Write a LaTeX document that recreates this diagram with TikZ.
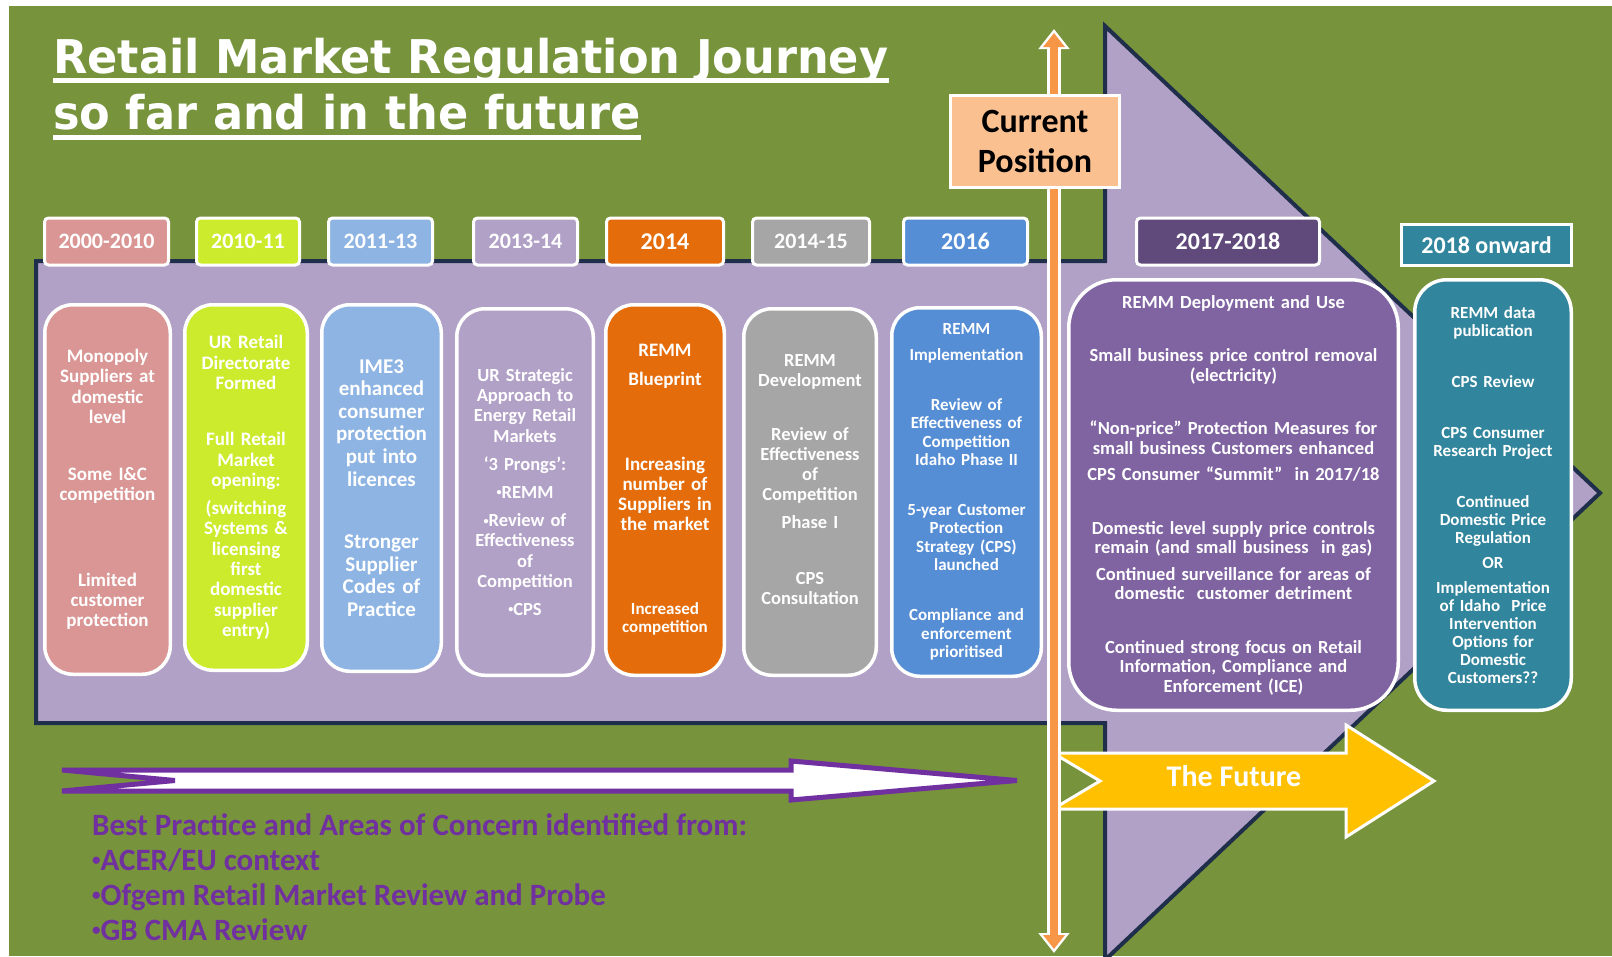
\documentclass[tikz,border=0pt]{standalone}
\usepackage{fontspec}
\usepackage{graphicx}
\setmainfont{Carlito}
\newfontfamily\titlefont[FakeStretch=0.96]{DejaVu Sans}
\usetikzlibrary{arrows.meta,positioning}

\definecolor{grass}{HTML}{77933C}
\definecolor{lilac}{HTML}{B2A1C7}
\definecolor{arrowedge}{HTML}{1F2E4A}
\definecolor{pinkbox}{HTML}{D99694}
\definecolor{limebox}{HTML}{CCEB2C}
\definecolor{skybox}{HTML}{8EB4E3}
\definecolor{orangebox}{HTML}{E46C0A}
\definecolor{greybox}{HTML}{A6A6A6}
\definecolor{bluebox}{HTML}{558ED5}
\definecolor{plumbox}{HTML}{8064A2}
\definecolor{plumdark}{HTML}{604A7B}
\definecolor{tealbox}{HTML}{31859C}
\definecolor{peach}{HTML}{FAC090}
\definecolor{amber}{HTML}{FFC000}
\definecolor{flame}{HTML}{F79646}
\definecolor{violettext}{HTML}{7030A0}

% small list bullet
\newcommand\pip{\raisebox{0.14em}{\scalebox{0.55}{•}}}

\tikzset{
  journey/.style={draw=arrowedge, line width=4pt, fill=lilac, line join=miter},
  lessons/.style={draw=violettext, line width=5pt, fill=white, line join=miter},
  ahead/.style={draw=white, line width=3pt, fill=amber, line join=miter},
  period/.style={draw=white, line width=3pt, rounded corners=4pt, text=white,
    inner sep=0pt, minimum height=47pt,
    font=\bfseries\fontsize{22}{24}\selectfont},
  bigperiod/.style={period, font=\bfseries\fontsize{24}{26}\selectfont},
  stage/.style={draw=white, line width=3.5pt, rounded corners=28pt,
    text=white, align=center, inner xsep=2pt, inner ysep=0pt},
  heading/.style={text=white, inner sep=0pt, anchor=base west,
    font=\titlefont\bfseries\fontsize{46.5}{50}\selectfont},
  concern/.style={text=violettext, inner sep=0pt, anchor=base west,
    font=\bfseries\fontsize{31}{35}\selectfont},
}

\begin{document}
\begin{tikzpicture}[x=1pt, y=-1pt]

  \useasboundingbox (0,0) rectangle (1612,956);
  \fill[white] (0,0) rectangle (1612,956);
  \fill[grass] (9,6) rectangle (1612,956);

  % the big journey arrow
  \draw[journey] (36,261) -- (1105,261) -- (1105,26) -- (1600,493)
    -- (1105,960) -- (1105,723) -- (36,723) -- cycle;

  % lessons arrow and the future arrow
  \draw[lessons] (62,770) -- (791,770) -- (791,761) -- (1017,780.5)
    -- (791,800) -- (791,791) -- (62,791) -- (175,780.5) -- cycle;
  \draw[ahead] (1053,753) -- (1346,753) -- (1346,725) -- (1434,781)
    -- (1346,837) -- (1346,809) -- (1053,809) -- (1100,781) -- cycle;
  \node[text=white, font=\bfseries\fontsize{30}{32}\selectfont] (future) at (1234,776) {The Future};

  % where we are now
  \coordinate (now top) at (1054,29);
  \coordinate (now bottom) at (1054,953);
  \draw[line width=14pt, white, {Triangle[length=20pt,width=30pt]}-{Triangle[length=20pt,width=30pt]}]
    (now top) -- (now bottom);
  \draw[line width=8pt, flame, shorten <=4pt, shorten >=4pt,
    {Triangle[length=14pt,width=21pt]}-{Triangle[length=14pt,width=21pt]}] (now top) -- (now bottom);
  \node[draw=white, line width=2.5pt, fill=peach, minimum width=169pt, minimum height=92pt,
    align=center, font=\bfseries\fontsize{34}{40}\selectfont] (now) at (1035,141.5) {Current\\Position};

  % periods
  \node[period, fill=pinkbox, minimum width=124pt] (p0010) at (106.5,241.5) {2000-2010};
  \node[period, fill=limebox, minimum width=103pt] (p1011) at (248,241.5) {2010-11};
  \node[period, fill=skybox, minimum width=104pt] (p1113) at (380.5,241.5) {2011-13};
  \node[period, fill=lilac, minimum width=104pt] (p1314) at (525.5,241.5) {2013-14};
  \node[bigperiod, fill=orangebox, minimum width=117pt] (p14) at (665,241.5) {2014};
  \node[period, fill=greybox, minimum width=117pt] (p1415) at (811,241.5) {2014-15};
  \node[bigperiod, fill=bluebox, minimum width=124pt] (p16) at (965.5,241.5) {2016};
  \node[bigperiod, fill=plumdark, minimum width=183pt] (p1718) at (1228,241.5) {2017-2018};
  \node[bigperiod, fill=tealbox, rounded corners=0pt, minimum width=170pt,
    minimum height=41pt] (p18) at (1486.5,245) {2018 onward};

  % what happened in each period
  \node[stage, fill=pinkbox, text width=121.5pt, minimum height=369.5pt,
    font=\bfseries\fontsize{19}{20.3}\selectfont] (s0010) at (107.5,489.5)
    {Monopoly\\Suppliers at\\domestic\\level\\[37pt]Some I\&C\\competition\\[65pt]Limited\\customer\\protection};
  \node[stage, fill=limebox, text width=118.5pt, minimum height=365.5pt,
    font=\bfseries\fontsize{19}{20.3}\selectfont] (s1011) at (246,487.5)
    {UR Retail\\Directorate\\Formed\\[36pt]Full Retail\\Market\\opening:\\[8pt](switching\\Systems \&\\licensing\\first\\domestic\\supplier\\entry)};
  \node[stage, fill=skybox, text width=115.5pt, minimum height=366.5pt,
    font=\bfseries\fontsize{21}{22.6}\selectfont] (s1113) at (381.5,488)
    {IME3\\enhanced\\consumer\\protection\\put into\\licences\\[40pt]Stronger\\Supplier\\Codes of\\Practice};
  \node[stage, fill=lilac, text width=132.5pt, minimum height=366.5pt,
    font=\bfseries\fontsize{18.5}{20.2}\selectfont] (s1314) at (525,492)
    {UR Strategic\\Approach to\\Energy Retail\\Markets\\[8pt]‘3 Prongs’:\\[8pt]\pip REMM\\[8pt]\pip Review of\\Effectiveness\\of\\Competition\\[8pt]\pip CPS};
  \node[stage, fill=orangebox, text width=114.5pt, minimum height=370.5pt,
    font=\bfseries\fontsize{19}{20}\selectfont] (s14) at (665,490)
    {REMM\\[9pt]Blueprint\\[65pt]Increasing\\number of\\Suppliers in\\the market\\[64pt]{\fontsize{17}{20}\selectfont Increased}\\[-2pt]{\fontsize{17}{20}\selectfont competition}};
  \node[stage, fill=greybox, text width=128.5pt, minimum height=366.5pt,
    font=\bfseries\fontsize{18.5}{20}\selectfont] (s1415) at (810,492)
    {REMM\\Development\\[34pt]Review of\\Effectiveness\\of\\Competition\\[8pt]Phase I\\[36pt]CPS\\Consultation\\[6pt]\mbox{}};
  \node[stage, fill=bluebox, text width=145.5pt, minimum height=368.5pt,
    font=\bfseries\fontsize{17}{18.3}\selectfont] (s16) at (966.5,492)
    {REMM\\[7pt]Implementation\\[32pt]Review of\\Effectiveness of\\Competition\\Idaho Phase II\\[32pt]5-year Customer\\Protection\\Strategy (CPS)\\launched\\[32pt]Compliance and\\enforcement\\prioritised};
  \node[stage, fill=plumbox, rounded corners=48pt, text width=325.5pt, minimum height=430.5pt,
    font=\bfseries\fontsize{18.5}{19.5}\selectfont] (s1718) at (1233.5,495)
    {REMM Deployment and Use\\[34pt]Small business price control removal\\(electricity)\\[34pt]“Non-price” Protection Measures for\\small business Customers enhanced\\[7pt]CPS Consumer “Summit”~ in 2017/18\\[34pt]Domestic level supply price controls\\remain (and small business~ in gas)\\[7pt]Continued surveillance for areas of\\domestic~ customer detriment\\[34pt]Continued strong focus on Retail\\Information, Compliance and\\Enforcement (ICE)};
  \node[stage, fill=tealbox, rounded corners=32pt, text width=152.5pt, minimum height=430.5pt,
    font=\bfseries\fontsize{17}{18}\selectfont] (s18) at (1493,495)
    {REMM data\\publication\\[33pt]CPS Review\\[33pt]CPS Consumer\\Research Project\\[33pt]Continued\\Domestic Price\\Regulation\\[7pt]OR\\[7pt]Implementation\\of Idaho~ Price\\Intervention\\Options for\\Domestic\\Customers??};

  % heading
  \node[heading] (head1) at (53,73) {Retail Market Regulation Journey};
  \node[heading] (head2) at (53,129) {so far and in the future};
  \draw[white, line width=4.5pt] ([yshift=-7.5pt]head1.base west) -- ([yshift=-7.5pt]head1.base east);
  \draw[white, line width=4.5pt] ([yshift=-8.5pt]head2.base west) -- ([yshift=-8.5pt]head2.base east);

  % sources of best practice
  \node[concern] (src0) at (92,835) {Best Practice and Areas of Concern identified from:};
  \node[concern] (src1) at (92,870) {\pip ACER/EU context};
  \node[concern] (src2) at (92,905) {\pip Ofgem Retail Market Review and Probe};
  \node[concern] (src3) at (92,940) {\pip GB CMA Review};

\end{tikzpicture}
\end{document}
